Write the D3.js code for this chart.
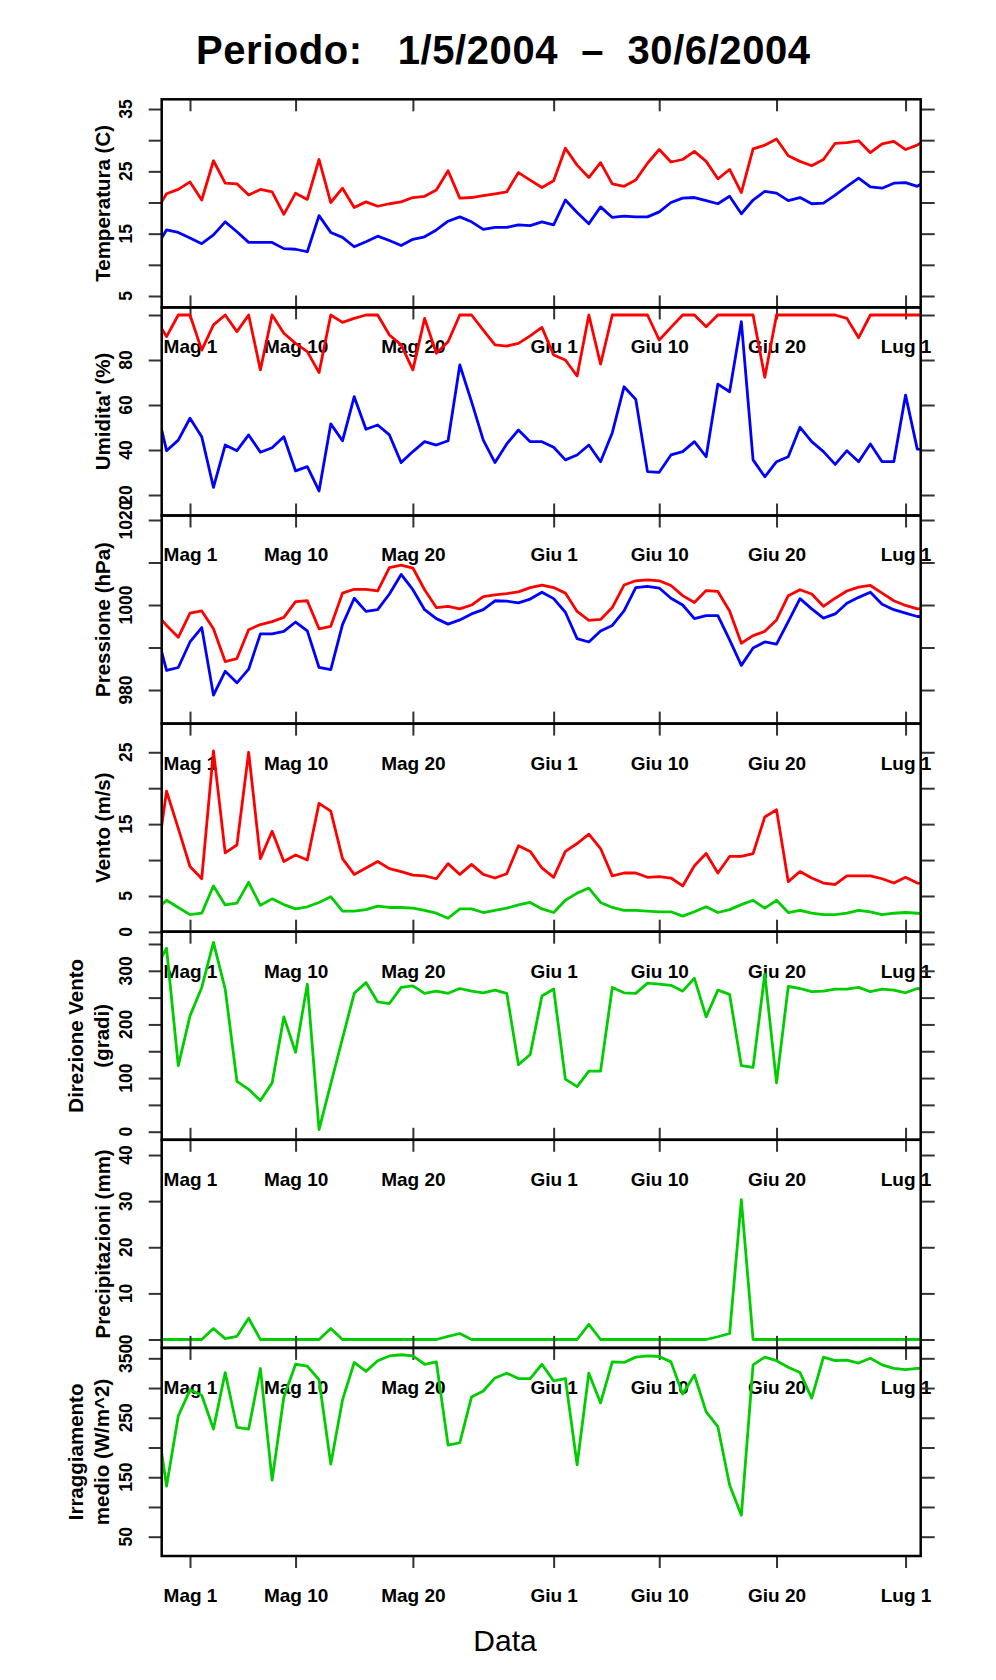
<!DOCTYPE html>
<html>
<head>
<meta charset="utf-8">
<script src="https://cdn.jsdelivr.net/npm/d3@7"></script>
<style>
  body { margin: 0; background: #fff; }
  text { font-family: "Liberation Sans", Arial, Helvetica, sans-serif; }
</style>
</head>
<body>
<div id="chart"></div>
<script>
// Daily values, 28 Apr 2004 .. 3 Jul 2004 (first and last days fall outside the plot and are clipped)
const tempMax = [18.3, 21.4, 22.1, 23.3, 20.4, 26.7, 23.1, 23.0, 21.2, 22.1, 21.7, 18.1, 21.5, 20.5, 26.9, 20.0, 22.3, 19.2, 20.1, 19.4, 19.8, 20.1, 20.8, 21.0, 22.0, 25.1, 20.7, 20.8, 21.1, 21.4, 21.7, 24.8, 23.6, 22.4, 23.5, 28.7, 26.0, 24.0, 26.4, 23.0, 22.6, 23.6, 26.3, 28.5, 26.5, 26.9, 28.2, 26.6, 23.8, 25.3, 21.6, 28.6, 29.2, 30.2, 27.5, 26.6, 25.9, 26.9, 29.5, 29.6, 29.9, 28.0, 29.4, 29.8, 28.5, 29.2, 30.5];
const tempMin = [12.5, 15.6, 15.2, 14.3, 13.4, 14.8, 16.9, 15.3, 13.6, 13.6, 13.6, 12.6, 12.5, 12.1, 17.9, 15.2, 14.4, 12.9, 13.7, 14.6, 13.9, 13.1, 14.1, 14.5, 15.6, 17.0, 17.7, 16.9, 15.7, 16.0, 16.0, 16.4, 16.3, 16.9, 16.4, 20.4, 18.4, 16.6, 19.3, 17.6, 17.8, 17.7, 17.7, 18.5, 20.0, 20.7, 20.8, 20.3, 19.8, 21.0, 18.2, 20.4, 21.8, 21.5, 20.3, 20.8, 19.8, 19.9, 21.2, 22.6, 23.9, 22.5, 22.3, 23.1, 23.2, 22.6, 23.7];
const humMax = [99, 90.4, 100, 100, 84.4, 95.6, 100, 92.6, 100, 75.6, 100, 91.9, 87.4, 83.7, 74.4, 100, 96.7, 98.5, 100, 100, 91.1, 86.7, 75.6, 98.5, 83.0, 88.1, 100, 100, 93.3, 86.7, 86.2, 87.4, 90.7, 94.5, 82.2, 80.0, 72.9, 100, 78.2, 100, 100, 100, 100, 88.9, 94.5, 100, 100, 94.8, 100, 100, 100, 100, 72.3, 100, 100, 100, 100, 100, 100, 98.5, 89.9, 100, 100, 100, 100, 100, 100];
const humMin = [62, 39.7, 44.4, 54.1, 45.9, 23.4, 42.2, 39.7, 46.7, 39.0, 41.0, 45.9, 30.7, 32.6, 21.8, 51.6, 44.1, 63.7, 49.2, 51.1, 46.7, 34.4, 39.3, 43.7, 42.2, 44.1, 77.8, 61.5, 44.4, 34.4, 42.7, 48.9, 43.7, 43.7, 41.2, 35.6, 37.8, 42.2, 34.8, 47.7, 68.1, 62.5, 30.4, 30.1, 37.8, 39.3, 43.7, 37.0, 69.3, 65.9, 97.0, 35.6, 28.1, 34.8, 37.0, 50.1, 43.7, 39.3, 33.6, 39.7, 34.8, 42.7, 34.8, 34.8, 64.4, 40.4, 40];
const presMax = [998.3, 995.2, 992.4, 998.1, 998.6, 994.4, 986.7, 987.4, 994.2, 995.4, 996.1, 997.1, 1000.8, 1001.0, 994.4, 995.0, 1002.8, 1003.7, 1003.7, 1003.3, 1008.8, 1009.4, 1008.7, 1003.6, 999.4, 999.7, 999.1, 1000.0, 1002.0, 1002.4, 1002.7, 1003.1, 1004.1, 1004.7, 1004.1, 1002.8, 998.5, 996.4, 996.6, 999.4, 1004.7, 1005.7, 1005.9, 1005.7, 1004.6, 1002.2, 1000.6, 1003.4, 1003.2, 998.6, 991.0, 992.8, 993.8, 996.5, 1002.2, 1003.6, 1002.6, 999.7, 1001.6, 1003.3, 1004.2, 1004.6, 1002.8, 1001.0, 999.9, 999.1, 999.2];
const presMin = [995.0, 984.6, 985.3, 991.3, 994.7, 978.8, 984.4, 981.7, 984.9, 993.2, 993.2, 993.8, 996.0, 993.9, 985.3, 984.8, 995.4, 1001.6, 998.5, 998.9, 1002.6, 1007.2, 1003.6, 998.9, 996.8, 995.5, 996.5, 997.9, 998.9, 1001.0, 1000.9, 1000.5, 1001.4, 1003.0, 1001.5, 998.3, 992.1, 991.3, 993.9, 995.2, 998.6, 1004.1, 1004.4, 1004.0, 1001.6, 1000.0, 996.8, 997.5, 997.5, 991.8, 985.8, 989.9, 991.3, 990.8, 996.1, 1001.5, 999.1, 996.9, 997.9, 1000.4, 1001.8, 1003.0, 1000.2, 998.9, 998.1, 997.3, 997.1];
const windMax = [7.8, 19.6, 14.4, 9.1, 7.4, 25.2, 11.0, 12.1, 25.0, 10.2, 14.0, 9.8, 10.7, 10.0, 17.9, 16.8, 10.2, 8.0, 8.9, 9.8, 8.8, 8.4, 7.9, 7.8, 7.4, 9.5, 8.0, 9.4, 8.0, 7.5, 8.1, 12.0, 11.2, 8.9, 7.6, 11.2, 12.3, 13.6, 11.6, 7.8, 8.2, 8.2, 7.6, 7.7, 7.5, 6.4, 9.2, 10.9, 8.2, 10.5, 10.5, 10.9, 16.0, 17.0, 7.0, 8.4, 7.5, 6.8, 6.6, 7.8, 7.8, 7.8, 7.4, 6.8, 7.6, 6.8, 6.7];
const windMean = [2.9, 4.4, 3.4, 2.4, 2.6, 6.4, 3.75, 4.0, 6.9, 3.7, 4.6, 3.8, 3.2, 3.5, 4.1, 4.9, 2.9, 2.9, 3.1, 3.6, 3.4, 3.4, 3.3, 3.0, 2.6, 1.9, 3.2, 3.2, 2.7, 3.0, 3.3, 3.75, 4.1, 3.2, 2.7, 4.4, 5.4, 6.1, 4.1, 3.4, 3.0, 3.0, 2.9, 2.8, 2.8, 2.2, 2.8, 3.5, 2.7, 3.1, 3.8, 4.4, 3.3, 4.4, 2.7, 3.0, 2.6, 2.4, 2.4, 2.6, 3.0, 2.8, 2.4, 2.6, 2.7, 2.6, 2.4];
const windDir = [302, 342, 123, 216, 269, 353, 266, 94, 79, 58, 91, 214, 148, 275, 4, 89, 174, 258, 278, 242, 239, 269, 272, 258, 262, 258, 267, 262, 259, 264, 258, 125, 144, 253, 266, 98, 84, 113, 113, 269, 259, 258, 277, 275, 273, 262, 286, 214, 264, 256, 123, 120, 294, 91, 271, 267, 261, 262, 266, 266, 269, 261, 266, 264, 259, 267, 264];
const rain = [0, 0, 0, 0, 0, 2.4, 0.2, 0.7, 4.6, 0, 0, 0, 0, 0, 0, 2.4, 0, 0, 0, 0, 0, 0, 0, 0, 0, 0.7, 1.3, 0, 0, 0, 0, 0, 0, 0, 0, 0, 0, 3.3, 0, 0, 0, 0, 0, 0, 0, 0, 0, 0, 0.6, 1.3, 30.3, 0, 0, 0, 0, 0, 0, 0, 0, 0, 0, 0, 0, 0, 0, 0, 0];
const radiation = [270, 135, 253, 297, 288, 231, 326, 234, 231, 333, 145, 285, 340, 337, 314, 172, 280, 343, 328, 346, 354, 356, 354, 340, 344, 204, 208, 285, 295, 317, 325, 316, 316, 340, 312, 316, 171, 325, 275, 344, 343, 352, 354, 353, 344, 290, 322, 260, 235, 137, 86, 339, 352, 346, 335, 326, 283, 352, 346, 347, 342, 350, 339, 333, 331, 333, 333];

// Date axis ticks
const tickDates = ["2004-05-01", "2004-05-10", "2004-05-20", "2004-06-01", "2004-06-10", "2004-06-20", "2004-07-01"];
const tickLabels = ["Mag 1", "Mag 10", "Mag 20", "Giu 1", "Giu 10", "Giu 20", "Lug 1"];

// Value axis ticks (labels: the ones R kept)
const tempTicks = [5, 10, 15, 20, 25, 30, 35], tempLabels = [5, 15, 25, 35];
const humTicks = [20, 40, 60, 80, 100], humLabels = [20, 40, 60, 80];
const presTicks = [980, 990, 1000, 1010, 1020], presLabels = [980, 1000, 1020];
const windTicks = [0, 5, 10, 15, 20, 25], windLabels = [0, 5, 15, 25];
const dirTicks = [0, 50, 100, 150, 200, 250, 300, 350], dirLabels = [0, 100, 200, 300];
const rainTicks = [0, 10, 20, 30, 40], rainLabels = [0, 10, 20, 30, 40];
const radTicks = [50, 100, 150, 200, 250, 300, 350], radLabels = [50, 150, 250, 350];

const RED = "#ff0000", BLUE = "#0000ff", GREEN = "#00cd00";

const panels = [
  {title: ["Temperatura (C)"], domain: [3.17, 36.56], ticks: tempTicks, labels: tempLabels, series: [[tempMax, RED], [tempMin, BLUE]]},
  {title: ["Umidita' (%)"], domain: [10.89, 103.38], ticks: humTicks, labels: humLabels, series: [[humMax, RED], [humMin, BLUE]]},
  {title: ["Pressione (hPa)"], domain: [972.1, 1021.06], ticks: presTicks, labels: presLabels, series: [[presMax, RED], [presMin, BLUE]]},
  {title: ["Vento (m/s)"], domain: [0.03, 28.99], ticks: windTicks, labels: windLabels, series: [[windMax, RED], [windMean, GREEN]]},
  {title: ["Direzione Vento", "(gradi)"], domain: [-15.1, 372.9], ticks: dirTicks, labels: dirLabels, series: [[windDir, GREEN]]},
  {title: ["Precipitazioni (mm)"], domain: [-1.82, 43.3], ticks: rainTicks, labels: rainLabels, series: [[rain, GREEN]]},
  {title: ["Irraggiamento", "medio (W/m^2)"], domain: [17.55, 367.5], ticks: radTicks, labels: radLabels, series: [[radiation, GREEN]]}
];

const svgW = 996, svgH = 1680;
const plotL = 161.7, plotR = 920.7, plotTop = 99.3, panelH = 208.1;
const DAY = 864e5;
const may1 = Date.UTC(2004, 4, 1);

const svg = d3.select("#chart").append("svg")
    .attr("width", svgW)
    .attr("height", svgH);

const x = d3.scaleUtc()
    .domain([new Date(may1 - 2.413 * DAY), new Date(may1 + 62.29 * DAY)])
    .range([plotL, plotR]);

const dates = tempMax.map((v, i) => new Date(Date.UTC(2004, 3, 28 + i)));
const parse = d3.utcParse("%Y-%m-%d");
const ticksX = tickDates.map(parse);

function styleAxis(g) {
  g.select(".domain").remove();
  g.selectAll(".tick line").attr("stroke", "#333").attr("stroke-width", 2);
  g.selectAll(".tick text")
      .attr("fill", "#000")
      .style("font-size", "19px")
      .style("font-weight", "bold");
}

panels.forEach((p, i) => {
  const y0 = plotTop + i * panelH, y1 = y0 + panelH;
  const y = d3.scaleLinear().domain(p.domain).range([y1, y0]);
  const g = svg.append("g");

  //date ticks and labels below the panel, they overlap into the next one
  g.append("g")
      .attr("transform", `translate(0,${y1})`)
      .call(d3.axisBottom(x).tickValues(ticksX).tickSize(12).tickPadding(20.5)
        .tickFormat((d, j) => tickLabels[j]))
      .call(styleAxis);

  //date ticks on top of the panel (first one points inward)
  g.append("g")
      .attr("transform", `translate(0,${y0})`)
      .call(d3.axisTop(x).tickValues(ticksX).tickSize(i === 0 ? -12 : 12).tickFormat(""))
      .call(styleAxis);

  //value ticks both sides, labels only on the left
  g.append("g")
      .attr("transform", `translate(${plotL},0)`)
      .call(d3.axisLeft(y).tickValues(p.ticks).tickSize(13).tickFormat(""))
      .call(styleAxis);
  g.append("g")
      .attr("transform", `translate(${plotR},0)`)
      .call(d3.axisRight(y).tickValues(p.ticks).tickSize(14).tickFormat(""))
      .call(styleAxis);

  p.labels.forEach(v => {
    g.append("text")
        .attr("transform", `translate(131.5,${y(v)}) rotate(-90)`)
        .attr("text-anchor", "middle")
        .style("font-size", "17.5px")
        .style("font-weight", "bold")
        .text(v);
  });

  //axis title, one or two lines
  const cy = (y0 + y1) / 2;
  const xs = p.title.length === 1 ? [110] : [83, 109];
  p.title.forEach((t, j) => {
    g.append("text")
        .attr("transform", `translate(${xs[j]},${cy}) rotate(-90)`)
        .attr("text-anchor", "middle")
        .style("font-size", "20.5px")
        .style("font-weight", "bold")
        .text(t);
  });

  svg.append("clipPath").attr("id", "clip" + i)
    .append("rect")
      .attr("x", plotL).attr("y", y0)
      .attr("width", plotR - plotL).attr("height", panelH);

  const line = d3.line()
      .x((d, j) => x(dates[j]))
      .y(d => y(d));

  p.series.forEach(([values, color]) => {
    g.append("path")
        .datum(values)
        .attr("clip-path", `url(#clip${i})`)
        .attr("fill", "none")
        .attr("stroke", color)
        .attr("stroke-width", 2.8)
        .attr("stroke-linejoin", "round")
        .attr("d", line);
  });

  g.append("rect")
      .attr("x", plotL).attr("y", y0)
      .attr("width", plotR - plotL).attr("height", panelH)
      .attr("fill", "none")
      .attr("stroke", "#000")
      .attr("stroke-width", 2.5);
});

svg.append("text")
    .attr("x", 503)
    .attr("y", 64)
    .attr("text-anchor", "middle")
    .attr("textLength", 614)
    .attr("lengthAdjust", "spacing")
    .style("white-space", "pre")
    .style("font-size", "40px")
    .style("font-weight", "bold")
    .text("Periodo:   1/5/2004  \u2013  30/6/2004");

svg.append("text")
    .attr("x", 505)
    .attr("y", 1651)
    .attr("text-anchor", "middle")
    .style("font-size", "30px")
    .text("Data");
</script>
</body>
</html>
